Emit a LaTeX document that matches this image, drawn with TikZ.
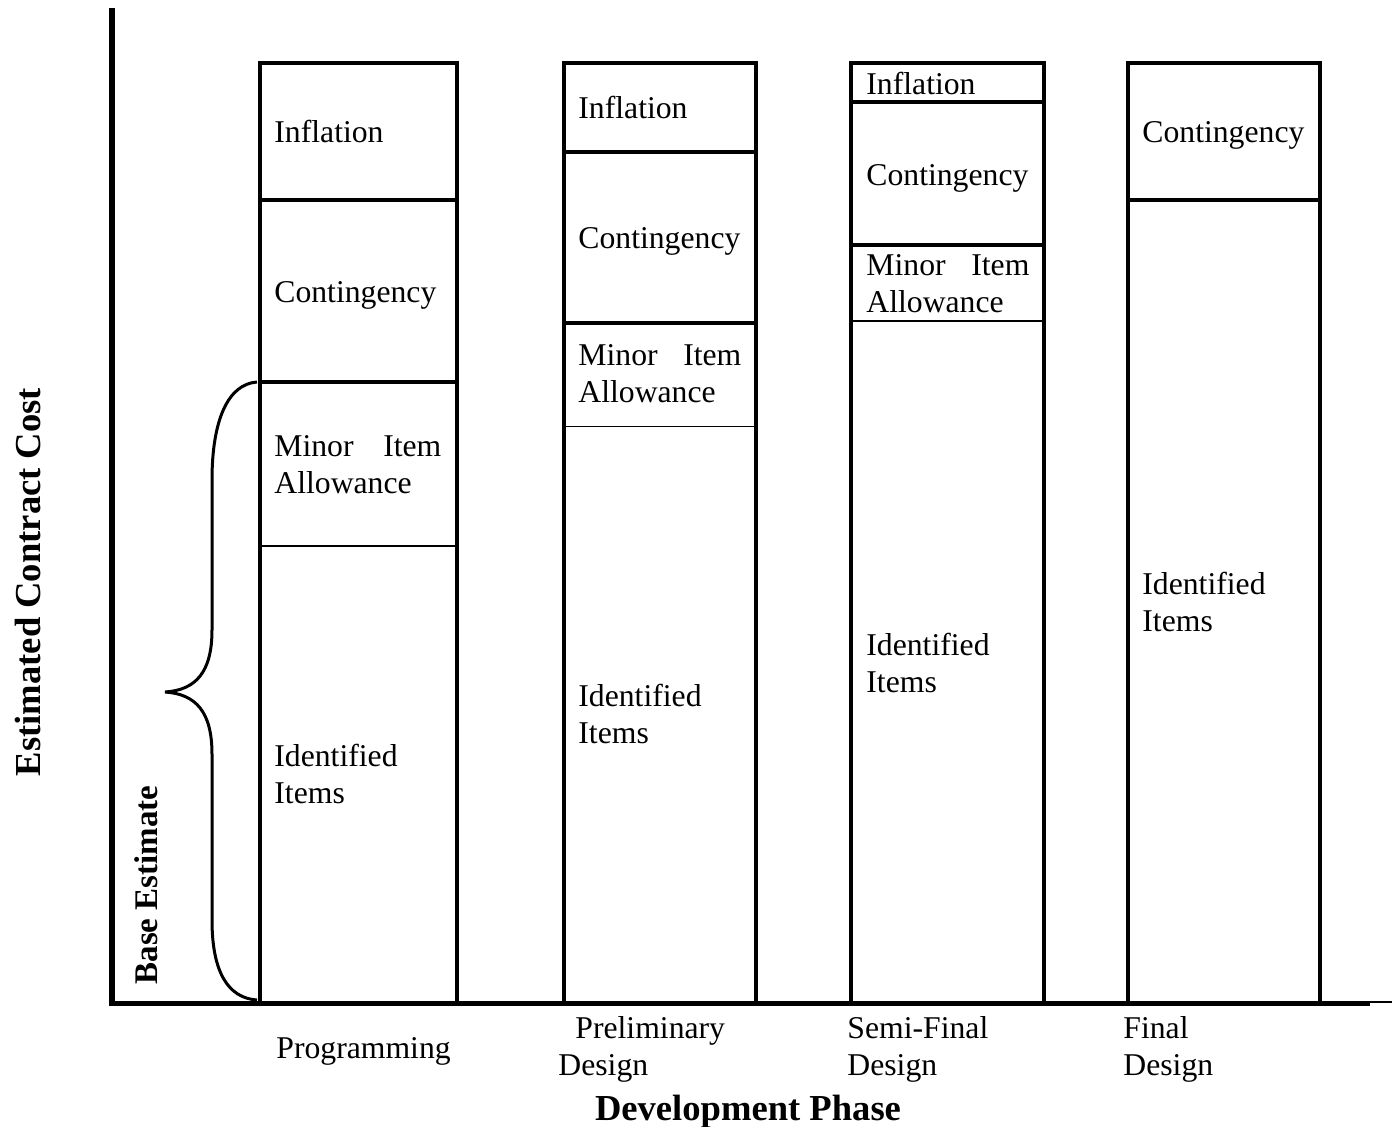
\documentclass[tikz,border=0pt]{standalone}
\usepackage{fontspec}
\setmainfont{Liberation Serif}
\newcommand\segfont{\fontsize{15.85}{18.5}\selectfont}
\newcommand\axfont{\fontsize{18.3}{21}\selectfont\bfseries}
\newcommand\bsfont{\fontsize{16.5}{19}\selectfont\bfseries}
\begin{document}
\begin{tikzpicture}[x=0.5pt,y=-0.5pt,
  barline/.style={line width=2pt},
  thickdiv/.style={line width=2pt},
  thindiv/.style={line width=0.8pt},
  seg/.style={font=\segfont, inner sep=0pt, anchor=west, align=left, text width=#1},
  seg/.default=81.5pt,
  phase/.style={font=\segfont, inner sep=0pt, anchor=west, align=left},
  axlabel/.style={font=\axfont, inner sep=0pt}]
\useasboundingbox (0,0) rectangle (1397,1126);
\fill[white] (0,0) rectangle (1397,1126);

% axes
\coordinate (ytop) at (112,8);
\coordinate (origin) at (112,1003.5);
\coordinate (xend) at (1370,1003.5);
\coordinate (xtail) at (1392,1002);
\draw[line width=3pt] (ytop) -- (112,1006);
\draw[line width=2.5pt] (109,1003.5) -- (xend);
\draw[line width=0.8pt] (1369,1002) -- (xtail);

% Programming bar
\draw[barline] (259.5,63) rectangle (456.5,1003);
\draw[thickdiv] (259.5,199.5) -- (456.5,199.5);
\draw[thickdiv] (259.5,382) -- (456.5,382);
\draw[thindiv] (259.5,546) -- (456.5,546);
\node[seg=83.5pt] (p1) at (274,131) {Inflation};
\node[seg=83.5pt] (p2) at (274,295) {Contingency};
\node[seg=83.5pt] (p3) at (274,465) {Minor\hfill Item\\Allowance};
\node[seg=83.5pt] (p4) at (274,774) {Identified\\Items};

% Preliminary bar
\draw[barline] (564,63) rectangle (756,1003);
\draw[thickdiv] (564,151.5) -- (756,151.5);
\draw[thickdiv] (564,322.5) -- (756,322.5);
\draw[thindiv] (564,426.5) -- (756,426.5);
\node[seg] (r1) at (578,107) {Inflation};
\node[seg] (r2) at (578,241) {Contingency};
\node[seg] (r3) at (578,374) {Minor\hfill Item\\Allowance};
\node[seg] (r4) at (578,714) {Identified\\Items};

% Semi-Final bar
\draw[barline] (851,63) rectangle (1044,1003);
\draw[thickdiv] (851,102) -- (1044,102);
\draw[thickdiv] (851,244.5) -- (1044,244.5);
\draw[thindiv] (851,321) -- (1044,321);
\node[seg] (s1) at (866,83) {Inflation};
\node[seg] (s2) at (866,178) {Contingency};
\node[seg] (s3) at (866,284) {Minor\hfill Item\\Allowance};
\node[seg] (s4) at (866,663) {Identified\\Items};

% Final bar
\draw[barline] (1127.5,63) rectangle (1320,1003);
\draw[thickdiv] (1127.5,199.5) -- (1320,199.5);
\node[seg] (f1) at (1142,135) {Contingency};
\node[seg] (f2) at (1142,602) {Identified\\Items};

% brace
\coordinate (btop) at (257,382);
\coordinate (btip) at (165,692);
\coordinate (bbot) at (257,1000);
\draw[line width=1.5pt] (btop) .. controls (228,384) and (212,420) .. (212,480)
  -- (212,630) .. controls (212,672) and (196,690) .. (btip)
  .. controls (196,694) and (212,712) .. (212,754)
  -- (212,920) .. controls (212,972) and (228,998) .. (bbot);
\node[font=\bsfont, inner sep=0pt, rotate=90] (base) at (146,885) {Base Estimate};

% axis labels
\node[axlabel, rotate=90] (ylab) at (28,582) {Estimated Contract Cost};
\node[axlabel, anchor=base] (xlab) at (748,1120) {Development Phase};

% phase labels
\node[phase] (l1) at (276,1051) {Programming};
\node[phase] (l2) at (558,1049) {\hspace*{8.5pt}Preliminary\\Design};
\node[phase] (l3) at (847,1049) {Semi-Final\\Design};
\node[phase] (l4) at (1123,1049) {Final\\Design};
\end{tikzpicture}
\end{document}
